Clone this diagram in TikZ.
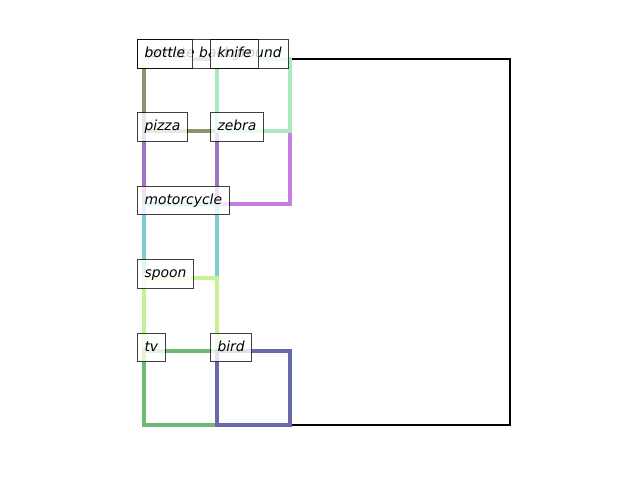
\documentclass[tikz,border=0pt]{standalone}
\usepackage{fontspec}
\setmainfont{DejaVu Sans}
\definecolor{cbottle}{RGB}{138,150,110}
\definecolor{cknife}{RGB}{170,235,190}
\definecolor{cpizza}{RGB}{160,115,190}
\definecolor{czebra}{RGB}{200,125,225}
\definecolor{cmotor}{RGB}{125,205,210}
\definecolor{cspoon}{RGB}{200,240,150}
\definecolor{ctv}{RGB}{110,185,115}
\definecolor{cbird}{RGB}{105,105,170}
\tikzset{
  region/.style={line width=2.2pt, line join=miter},
  tag/.style={anchor=west, draw=black, draw opacity=0.75, line width=0.75pt,
    fill=white, fill opacity=0.8, text opacity=1, inner xsep=5.04pt,
    inner ysep=0pt, minimum height=20.2pt, text height=7.4pt, text depth=2.2pt,
    font=\fontsize{10pt}{12pt}\selectfont\itshape}
}
\begin{document}
\begin{tikzpicture}[x=0.72pt, y=-0.72pt]
  \useasboundingbox (0,0) rectangle (640,480);
  % whole-image region
  \draw[region, black, line width=2.1pt] (144,59) rectangle (510,425);
  % object regions, back to front
  \draw[region, czebra] (217,131) rectangle (290,204);
  \draw[region, cpizza] (144,131) rectangle (217,204);
  \draw[region, cbottle] (144,59) rectangle (217,131);
  \draw[region, cknife] (217,59) rectangle (290,131);
  \draw[region, cmotor] (144,204) rectangle (217,278);
  \draw[region, cspoon] (144,278) rectangle (217,351);
  \draw[region, ctv] (144,351) rectangle (217,425);
  \draw[region, cbird] (217,351) rectangle (290,425);
  % labels
  \node[tag] (lbg) at (137,54) {remote background};
  \node[tag] (lbottle) at (137,54) {bottle};
  \node[tag] (lknife) at (210,54) {knife};
  \node[tag] (lpizza) at (137,127) {pizza};
  \node[tag] (lzebra) at (210,127) {zebra};
  \node[tag] (lmotor) at (137,200.5) {motorcycle};
  \node[tag] (lspoon) at (137,274) {spoon};
  \node[tag] (ltv) at (137,347.5) {tv};
  \node[tag] (lbird) at (210,347.5) {bird};
\end{tikzpicture}
\end{document}
